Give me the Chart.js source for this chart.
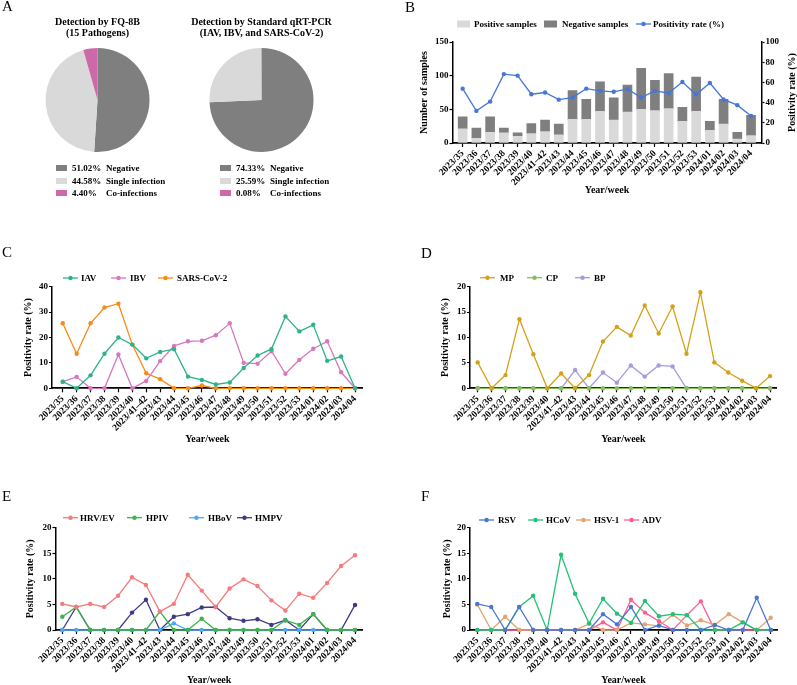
<!DOCTYPE html>
<html>
<head>
<meta charset="utf-8">
<script src="https://cdn.jsdelivr.net/npm/chart.js@4.4.1/dist/chart.umd.min.js"></script>
<style>
  body { margin: 0; background: #fff; }
  #page { position: relative; width: 797px; height: 685px; overflow: hidden; background: #fff; }
  canvas { position: absolute; }
  .tag { position: absolute; font: 15px 'Liberation Serif', serif; line-height: 15px; color: #000; }
</style>
</head>
<body>
<div id="page">
  <canvas id="pie1" width="195" height="215" style="left:0;top:0;width:195px;height:215px"></canvas>
  <canvas id="pie2" width="195" height="215" style="left:164px;top:0;width:195px;height:215px"></canvas>
  <canvas id="chartB" width="397" height="215" style="left:400px;top:0;width:397px;height:215px"></canvas>
  <canvas id="chartC" width="400" height="225" style="left:0;top:230px;width:400px;height:225px"></canvas>
  <canvas id="chartD" width="397" height="225" style="left:400px;top:230px;width:397px;height:225px"></canvas>
  <canvas id="chartE" width="400" height="225" style="left:0;top:460px;width:400px;height:225px"></canvas>
  <canvas id="chartF" width="397" height="225" style="left:400px;top:460px;width:397px;height:225px"></canvas>
  <div class="tag" style="left:2px;top:-1px">A</div>
  <div class="tag" style="left:405px;top:0px">B</div>
  <div class="tag" style="left:2px;top:245px">C</div>
  <div class="tag" style="left:421px;top:246px">D</div>
  <div class="tag" style="left:2px;top:489px">E</div>
  <div class="tag" style="left:421px;top:489px">F</div>
</div>
<script>
// x categories shared by every weekly panel
const weeks = ['2023/35', '2023/36', '2023/37', '2023/38', '2023/39', '2023/40', '2023/41–42', '2023/43',
  '2023/44', '2023/45', '2023/46', '2023/47', '2023/48', '2023/49', '2023/50', '2023/51', '2023/52',
  '2023/53', '2024/01', '2024/02', '2024/03', '2024/04'];

// A: pies
const pieLabels = ['Negative', 'Single infection', 'Co-infections'];
const fq8bShare = [51.02, 44.58, 4.40];
const pcrShare = [74.33, 25.59, 0.08];

// B: samples per week and positivity
const positiveSamples = [21, 7, 16, 15, 10, 14, 17, 12, 35, 35, 47, 34, 46, 50, 48, 51, 32, 47, 19, 28, 6, 11];
const negativeSamples = [18, 15, 23, 7, 5, 15, 17, 16, 43, 30, 44, 33, 40, 61, 45, 52, 21, 51, 13, 37, 10, 30];
const positivityRate = [53.8, 31.8, 41.0, 68.2, 66.7, 48.3, 50.0, 42.9, 44.9, 53.8, 51.6, 50.7, 53.5, 45.0,
  51.6, 49.5, 60.4, 48.0, 59.4, 43.1, 37.5, 26.8];

// C
const iav = [2.6, 0, 5.1, 13.6, 20.0, 17.2, 11.8, 14.3, 15.4, 4.6, 3.3, 1.5, 2.3, 8.0, 12.9, 15.5, 28.3, 22.4, 25.0, 10.8, 12.5, 0];
const ibv = [2.6, 4.5, 0, 0, 13.3, 0, 2.9, 10.7, 16.7, 18.5, 18.7, 20.9, 25.6, 10.0, 9.7, 14.6, 5.7, 11.2, 15.6, 18.5, 6.3, 0];
const sarsCov2 = [25.6, 13.6, 25.6, 31.8, 33.3, 17.2, 5.9, 3.6, 0, 0, 1.1, 0, 0, 0, 0, 0, 0, 0, 0, 0, 0, 0];

// D
const mp = [5.1, 0, 2.6, 13.6, 6.7, 0, 2.9, 0, 2.6, 9.2, 12.1, 10.4, 16.3, 10.8, 16.1, 6.8, 18.9, 5.1, 3.1, 1.5, 0, 2.4];
const cp = [0, 0, 0, 0, 0, 0, 0, 0, 0, 0, 0, 0, 0, 0, 0, 0, 0, 0, 0, 0, 0, 0];
const bp = [0, 0, 0, 0, 0, 0, 0, 3.6, 0, 3.1, 1.1, 4.5, 2.3, 4.5, 4.3, 0, 0, 0, 0, 0, 0, 0];

// E
const hrvEv = [5.1, 4.5, 5.1, 4.5, 6.7, 10.3, 8.8, 3.6, 5.1, 10.8, 7.7, 4.5, 8.1, 9.9, 8.6, 5.8, 3.8, 7.1, 6.3, 9.2, 12.5, 14.6];
const hpiv = [2.6, 4.5, 0, 0, 0, 0, 0, 3.6, 0, 0, 2.2, 0, 0, 0, 0, 0, 1.9, 1.0, 3.1, 0, 0, 0];
const hbov = [0, 0, 0, 0, 0, 0, 0, 0, 1.3, 0, 0, 0, 0, 0, 0, 0, 0, 0, 0, 0, 0, 0];
const hmpv = [0, 4.5, 0, 0, 0, 3.4, 5.9, 0, 2.6, 3.1, 4.4, 4.5, 2.3, 1.8, 2.1, 1.0, 1.9, 0, 3.1, 0, 0, 4.9];

// F
const rsv = [5.1, 4.5, 0, 4.5, 0, 0, 0, 0, 0, 3.1, 1.1, 4.5, 0, 0.9, 0, 0, 0, 1.0, 0, 0, 6.3, 0];
const hcov = [0, 0, 0, 4.5, 6.7, 0, 14.7, 7.1, 1.3, 6.1, 3.2, 1.4, 5.7, 2.7, 3.1, 2.9, 0, 0, 0, 1.5, 0, 0];
const hsv1 = [5.0, 0, 2.6, 0, 0, 0, 0, 0, 1.2, 0, 0, 1.4, 1.1, 0.8, 3.0, 0.9, 1.9, 1.0, 3.1, 1.5, 0, 2.4];
const adv = [0, 0, 0, 0, 0, 0, 0, 0, 0, 1.5, 0, 5.9, 3.4, 1.7, 0, 2.9, 5.6, 0, 0, 0, 0, 0];

const serif = "'Liberation Serif', 'Times New Roman', serif";
const pieColors = ['#7F7F7F', '#D9D9D9', '#CC6AA9'];

Chart.defaults.font.family = serif;
Chart.defaults.font.weight = 'bold';
Chart.defaults.color = '#000';
Chart.defaults.animation = false;
Chart.defaults.responsive = false;
Chart.defaults.events = [];
Chart.defaults.plugins.legend.display = false;
Chart.defaults.plugins.tooltip.enabled = false;

// legend drawn the way Prism lays it out: one row, fixed x per item
const panelLegend = {
  id: 'panelLegend',
  afterDraw(chart, args, o) {
    const ctx = chart.ctx;
    ctx.save();
    ctx.font = 'bold 9px ' + serif;
    ctx.textBaseline = 'middle';
    chart.data.datasets.forEach((ds, i) => {
      const x = o.x[i], y = o.y;
      const kind = ds.type || chart.config.type;
      if (kind === 'bar') {
        ctx.fillStyle = ds.backgroundColor;
        ctx.fillRect(x, y - 3.5, 13, 7);
      } else {
        ctx.strokeStyle = ds.borderColor;
        ctx.lineWidth = 1.3;
        ctx.beginPath();
        ctx.moveTo(x, y);
        ctx.lineTo(x + 15, y);
        ctx.stroke();
        ctx.fillStyle = ds.borderColor;
        ctx.beginPath();
        ctx.arc(x + 7.5, y, 2.2, 0, Math.PI * 2);
        ctx.fill();
      }
      ctx.fillStyle = '#000';
      ctx.fillText(ds.label, o.tx[i], y + 0.5);
    });
    if (o.sideTitle) {
      ctx.font = 'bold 10px ' + serif;
      ctx.textAlign = 'center';
      ctx.translate(o.sideTitle.x, o.sideTitle.y);
      ctx.rotate(-Math.PI / 2);
      ctx.fillText(o.sideTitle.text, 0, 0);
    }
    ctx.restore();
  }
};

const pieLegend = {
  id: 'pieLegend',
  afterDraw(chart, args, o) {
    const ctx = chart.ctx;
    const ds = chart.data.datasets[0];
    ctx.save();
    ctx.font = 'bold 9px ' + serif;
    ctx.textBaseline = 'middle';
    chart.data.labels.forEach((label, i) => {
      const y = o.y[i];
      ctx.fillStyle = ds.backgroundColor[i];
      ctx.fillRect(o.rectX, y - 3, 11, 6);
      ctx.fillStyle = '#000';
      ctx.fillText(ds.data[i].toFixed(2) + '%', o.pctX, y + 0.5);
      ctx.fillText(label, o.labelX, y + 0.5);
    });
    ctx.restore();
  }
};

function pieChart(id, values, titleLines) {
  return new Chart(document.getElementById(id), {
    type: 'pie',
    data: {
      labels: pieLabels,
      datasets: [{ data: values, backgroundColor: pieColors, borderWidth: 0 }]
    },
    options: {
      layout: { padding: { top: 0, bottom: 63, left: 0, right: 0 } },
      plugins: {
        title: {
          display: true, text: titleLines,
          font: { size: 10, lineHeight: 1.1 },
          padding: { top: 16.5, bottom: 9.5 }
        },
        pieLegend: { rectX: 56, pctX: 72, labelX: 106, y: [168, 181, 193] }
      }
    },
    plugins: [pieLegend]
  });
}

// weekly axis: linear so the first/last week can sit a little inside the axis ends like Prism does;
// one tick per week, set by hand because the generated ticks start at min
function xAxis(min, max, height, titlePad) {
  return {
    type: 'linear', position: 'bottom', min: min, max: max, bounds: 'data', offset: false,
    afterFit: s => { s.height = height; },
    afterBuildTicks: s => {
      s.ticks = weeks.map((w, i) => ({ value: i }));
    },
    afterTickToLabelConversion: s => {
      s.ticks.forEach(t => { t.label = weeks[t.value]; });
    },
    border: { color: '#000', width: 1.8 },
    grid: { drawOnChartArea: false, offset: false, tickLength: 4, tickColor: '#000', tickWidth: 1.2 },
    ticks: {
      stepSize: 1, autoSkip: false,
      minRotation: 45, maxRotation: 45, padding: 1,
      font: { size: 9.5 }
    },
    title: { display: true, text: 'Year/week', font: { size: 10, lineHeight: 1 }, padding: { top: 0, bottom: titlePad } }
  };
}

function yAxis(max, step, width, titlePad, text) {
  return {
    min: 0, max: max,
    afterFit: s => { s.width = width; },
    border: { color: '#000', width: 1.5 },
    grid: { drawOnChartArea: false, tickLength: 3, tickColor: '#000', tickWidth: 1.2 },
    ticks: { stepSize: step, padding: 1, font: { size: 9 } },
    title: { display: true, text: text, font: { size: 10, lineHeight: 1 }, padding: { top: titlePad, bottom: 0 } }
  };
}

function lineSet(label, values, color) {
  return {
    label: label,
    data: values.map((v, i) => ({ x: i, y: v })),
    borderColor: color, backgroundColor: color,
    borderWidth: 1.3, pointRadius: 2.2, pointBorderWidth: 0,
    tension: 0, clip: false
  };
}

function trendChart(id, sets, geo) {
  return new Chart(document.getElementById(id), {
    type: 'line',
    data: { datasets: sets.map(s => lineSet(s[0], s[1], s[2])) },
    options: {
      layout: { padding: { top: geo.top, right: geo.right, left: 0, bottom: 0 } },
      scales: {
        x: xAxis(geo.xMin, geo.xMax, geo.xH, geo.xTitlePad),
        y: yAxis(geo.yMax, geo.yStep, geo.yW, geo.yTitlePad, 'Positivity rate (%)')
      },
      plugins: { panelLegend: { y: geo.legY, x: geo.legX, tx: geo.legTX } }
    },
    plugins: [panelLegend]
  });
}

pieChart('pie1', fq8bShare, ['Detection by FQ-8B', '(15 Pathogens)']);
pieChart('pie2', pcrShare, ['Detection by Standard qRT-PCR', '(IAV, IBV, and SARS-CoV-2)']);

const xB = xAxis(-0.74, 21.76, 72, 20);
xB.stacked = true;
const yB = yAxis(150, 50, 52.5, 19, 'Number of samples');
yB.stacked = true;

new Chart(document.getElementById('chartB'), {
  type: 'bar',
  data: {
    datasets: [
      {
        type: 'bar', label: 'Positive samples',
        data: positiveSamples.map((v, i) => ({ x: i, y: v })),
        backgroundColor: '#D9D9D9', stack: 'samples', order: 1, barThickness: 9
      },
      {
        type: 'bar', label: 'Negative samples',
        data: negativeSamples.map((v, i) => ({ x: i, y: v })),
        backgroundColor: '#7F7F7F', stack: 'samples', order: 1, barThickness: 9
      },
      Object.assign(lineSet('Positivity rate (%)', positivityRate, '#4477D6'), { type: 'line', yAxisID: 'y2', order: 0 })
    ]
  },
  options: {
    layout: { padding: { top: 42, left: 0, right: 0, bottom: 0 } },
    scales: {
      x: xB,
      y: yB,
      y2: {
        position: 'right', min: 0, max: 100,
        afterFit: s => { s.width = 35.5; },
        border: { color: '#000', width: 1.5 },
        grid: { drawOnChartArea: false, tickLength: 3, tickColor: '#000', tickWidth: 1.2 },
        ticks: { stepSize: 20, padding: 1, font: { size: 9 } }
      }
    },
    plugins: {
      panelLegend: {
        y: 24, x: [57, 144, 236], tx: [74, 162, 253],
        sideTitle: { text: 'Positivity rate (%)', x: 392, y: 92.5 }
      }
    }
  },
  plugins: [panelLegend]
});

trendChart('chartC', [
  ['IAV', iav, '#2DB38C'],
  ['IBV', ibv, '#D578C0'],
  ['SARS-CoV-2', sarsCov2, '#F98A16']
], { top: 56.7, right: 37.3, xMin: -0.77, xMax: 21.55, xH: 66.7, xTitlePad: 11,
     yMax: 40, yStep: 10, yW: 52, yTitlePad: 23, legY: 48, legX: [63, 111, 158], legTX: [81, 130, 177] });

trendChart('chartD', [
  ['MP', mp, '#D4A21A'],
  ['CP', cp, '#86C05A'],
  ['BP', bp, '#A79BDB']
], { top: 56.7, right: 20.3, xMin: -0.55, xMax: 21.48, xH: 66.7, xTitlePad: 11,
     yMax: 20, yStep: 5, yW: 70, yTitlePad: 40, legY: 47.7, legX: [80, 127, 175], legTX: [100, 146, 194] });

trendChart('chartE', [
  ['HRV/EV', hrvEv, '#F47C7C'],
  ['HPIV', hpiv, '#3DB44B'],
  ['HBoV', hbov, '#4FA8F5'],
  ['HMPV', hmpv, '#3E3A84']
], { top: 67.7, right: 37.3, xMin: -0.49, xMax: 21.55, xH: 55, xTitlePad: 0,
     yMax: 20, yStep: 5, yW: 55.5, yTitlePad: 25, legY: 57.7, legX: [63, 127, 189, 237], legTX: [80, 146, 208, 255] });

trendChart('chartF', [
  ['RSV', rsv, '#4A78D0'],
  ['HCoV', hcov, '#23C274'],
  ['HSV-1', hsv1, '#E2A472'],
  ['ADV', adv, '#FF5E95']
], { top: 67.7, right: 20, xMin: -0.52, xMax: 21.45, xH: 55, xTitlePad: 0,
     yMax: 20, yStep: 5, yW: 70, yTitlePad: 42, legY: 60, legX: [79, 128, 176, 224], legTX: [98, 146, 194, 242] });
</script>
</body>
</html>
